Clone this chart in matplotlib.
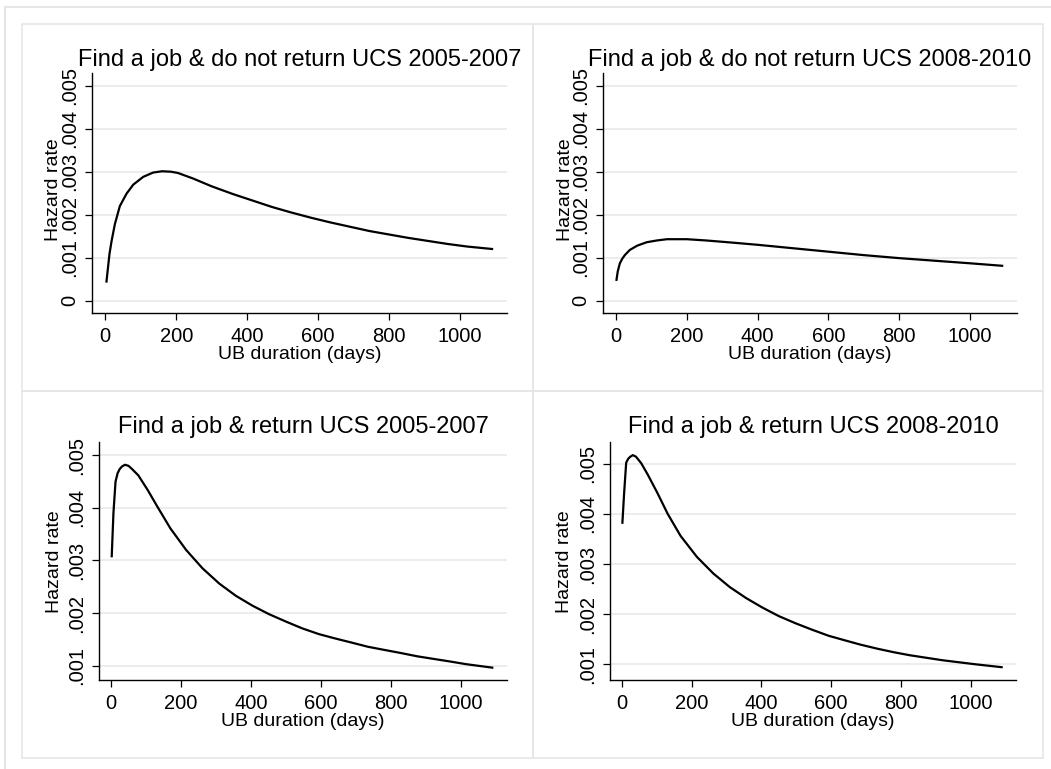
import matplotlib
matplotlib.use("Agg")
import matplotlib.pyplot as plt
from matplotlib.patches import Rectangle
from matplotlib.lines import Line2D

plt.rcParams['font.family'] = ['Liberation Sans', 'DejaVu Sans']

# ---- data ----
titles = [
    "Find a job & do not return UCS 2005-2007",
    "Find a job & do not return UCS 2008-2010",
    "Find a job & return UCS 2005-2007",
    "Find a job & return UCS 2008-2010",
]
x_label = "UB duration (days)"
y_label = "Hazard rate"
x_ticks = [0, 200, 400, 600, 800, 1000]
y_ticks_top = [0, 0.001, 0.002, 0.003, 0.004, 0.005]
y_ticks_bottom = [0.001, 0.002, 0.003, 0.004, 0.005]
y_tick_labels_top = ["0", ".001", ".002", ".003", ".004", ".005"]
y_tick_labels_bottom = [".001", ".002", ".003", ".004", ".005"]

days_1 = [3, 8, 12, 18, 27, 41, 60, 79, 107, 135, 160, 185, 205, 248, 300, 360, 415, 470, 525, 580,
          635, 690, 745, 800, 855, 910, 965, 1020, 1094]
hazard_1 = [0.00042, 0.00080, 0.00110, 0.00140, 0.00178, 0.00220, 0.00249, 0.00270, 0.00288, 0.00298,
            0.00301, 0.00300, 0.00297, 0.00284, 0.00266, 0.00248, 0.00233, 0.00218, 0.00205, 0.00193,
            0.00182, 0.00172, 0.00162, 0.00154, 0.00146, 0.00139, 0.00132, 0.00126, 0.00120]

days_2 = [1, 5, 11, 18, 25, 39, 60, 87, 115, 144, 200, 256, 330, 400, 500, 600, 700, 800, 900, 1000, 1094]
hazard_2 = [0.00046, 0.00068, 0.00087, 0.00098, 0.00106, 0.00118, 0.00128, 0.00136, 0.00140, 0.00143,
            0.00143, 0.00140, 0.00135, 0.00130, 0.00122, 0.00114, 0.00106, 0.00099, 0.00093, 0.00087, 0.00081]

days_3 = [2, 7, 13, 19, 25, 32, 40, 50, 60, 78, 105, 133, 170, 215, 262, 310, 357, 405, 452, 500, 547,
          595, 640, 688, 735, 782, 830, 875, 922, 970, 1015, 1094]
hazard_3 = [0.00306, 0.00390, 0.00450, 0.00466, 0.00474, 0.00479, 0.00482, 0.00480, 0.00474, 0.00462,
            0.00434, 0.00402, 0.00361, 0.00320, 0.00285, 0.00256, 0.00233, 0.00214, 0.00198, 0.00184,
            0.00171, 0.00160, 0.00152, 0.00144, 0.00136, 0.00130, 0.00124, 0.00118, 0.00113, 0.00108,
            0.00103, 0.00096]

days_4 = [1, 6, 12, 18, 24, 31, 40, 55, 74, 102, 131, 168, 215, 262, 309, 356, 403, 450, 497, 545, 592,
          638, 685, 733, 780, 826, 873, 920, 967, 1014, 1092]
hazard_4 = [0.00380, 0.00440, 0.00502, 0.00510, 0.00514, 0.00517, 0.00514, 0.00501, 0.00478, 0.00441,
            0.00400, 0.00356, 0.00314, 0.00281, 0.00254, 0.00232, 0.00213, 0.00196, 0.00182, 0.00169,
            0.00157, 0.00148, 0.00139, 0.00131, 0.00124, 0.00118, 0.00113, 0.00108, 0.00104, 0.00100,
            0.00094]

series_days = [days_1, days_2, days_3, days_4]
series_hazard = [hazard_1, hazard_2, hazard_3, hazard_4]

# ---- layout (pixels) ----
W, H = 1051, 769
fig = plt.figure(figsize=(W / 100, H / 100), dpi=100)
fig.patch.set_facecolor('white')

def fx(px):
    return px / W

def fy(py):
    return 1 - py / H

# axes boxes: left, right, top, bottom in pixels
boxes = [
    (92, 507, 73, 313),
    (602.7, 1016.7, 73, 313),
    (99, 507, 442.3, 680),
    (610, 1016, 442.3, 680),
]
xlims = [(-37.5, 1133), (-37.5, 1132), (-34.3, 1133), (-34.4, 1130)]
ylims = [(-0.000286, 0.005295), (-0.000286, 0.005295), (0.000728, 0.005247), (0.000687, 0.005426)]
ylabel_x = [-0.0916, -0.0903, -0.110, -0.111]
ylabel_y = [0.515, 0.515, 0.5, 0.5]
title_pad = [5.0, 5.0, 6.7, 6.7]

grid_col = '#eaeaea'
border_col = '#e6e6e6'

# panel frames
panel_rects = [
    (22.3, 24.3, 533.3, 391),
    (533.3, 24.3, 1042.7, 391),
    (22.3, 391, 533.3, 758.3),
    (533.3, 391, 1042.7, 758.3),
]
for (l, t, r, b) in panel_rects:
    fig.add_artist(Rectangle((fx(l), fy(b)), fx(r) - fx(l), fy(t) - fy(b),
                             transform=fig.transFigure, fill=False,
                             edgecolor=border_col, lw=1.2))
# outer frame edges
fig.add_artist(Line2D([fx(5), 1], [fy(6.7), fy(6.7)], transform=fig.transFigure, color=border_col, lw=1.5))
fig.add_artist(Line2D([fx(5), fx(5)], [fy(6.7), 0], transform=fig.transFigure, color=border_col, lw=1.5))

for i in range(4):
    l, r, t, b = boxes[i]
    ax = fig.add_axes([fx(l), fy(b), fx(r) - fx(l), fy(t) - fy(b)])
    ax.plot(series_days[i], series_hazard[i], color='black', lw=1.6,
            solid_joinstyle='round', solid_capstyle='butt')
    ax.set_xlim(*xlims[i])
    ax.set_ylim(*ylims[i])
    ax.set_xticks(x_ticks)
    ax.set_xticklabels([str(v) for v in x_ticks])
    if i < 2:
        ax.set_yticks(y_ticks_top)
        ax.set_yticklabels(y_tick_labels_top)
    else:
        ax.set_yticks(y_ticks_bottom)
        ax.set_yticklabels(y_tick_labels_bottom)
    for s in ['top', 'right']:
        ax.spines[s].set_visible(False)
    for s in ['left', 'bottom']:
        ax.spines[s].set_linewidth(1.0)
        ax.spines[s].set_color('black')
    ax.yaxis.grid(True, color=grid_col, lw=1.3)
    ax.set_axisbelow(True)
    ax.tick_params(axis='both', direction='out', length=5, width=0.9, labelsize=14.5, color='black')
    ax.tick_params(axis='x', pad=5.0)
    ax.tick_params(axis='y', pad=4)
    for lab in ax.get_yticklabels():
        lab.set_rotation(90)
        lab.set_va('center')
    ax.set_xlabel(x_label, fontsize=14, labelpad=0.0)
    ax.set_ylabel(y_label, fontsize=14)
    ax.yaxis.label.set_verticalalignment('center')
    ax.yaxis.set_label_coords(ylabel_x[i], ylabel_y[i])
    ax.set_title(titles[i], fontsize=17, pad=title_pad[i])

fig.savefig('out.png', dpi=100, facecolor='white')
